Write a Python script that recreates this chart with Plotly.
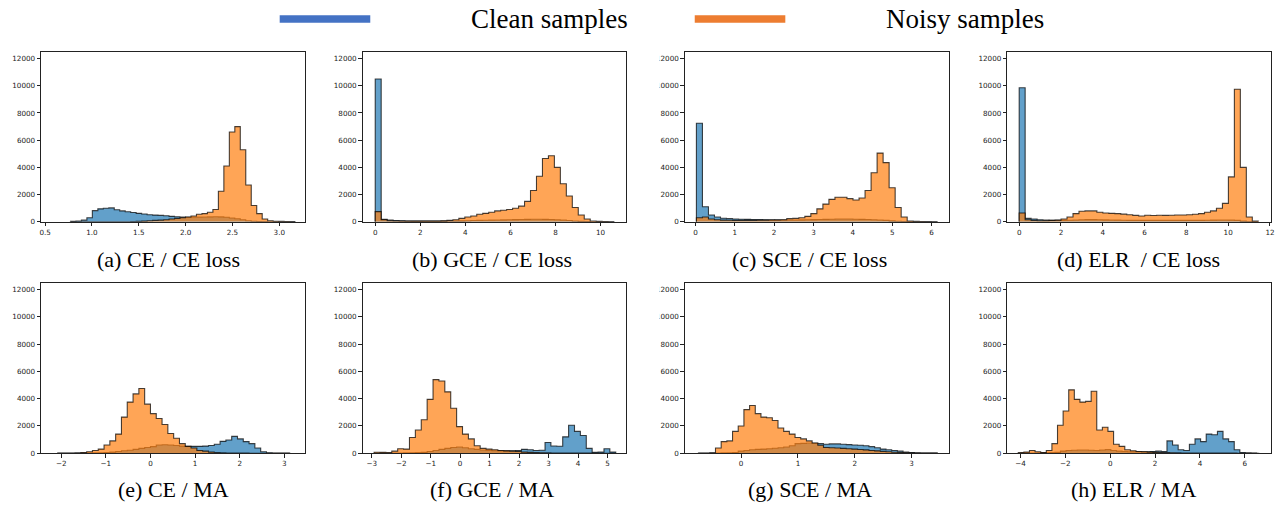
import plotly.graph_objects as go

W, H = 1282, 506

CAPTIONS = ["(a) CE / CE loss", "(b) GCE / CE loss", "(c) SCE / CE loss", "(d) ELR\u00a0 / CE loss",
            "(e) CE / MA", "(f) GCE / MA", "(g) SCE / MA", "(h) ELR / MA"]

# ---- histogram data: (bin start, bin width, counts) per series ----
A_CLEAN = (0.77, 0.0585, [30, 60, 120, 300, 820, 950, 1000, 1020, 880, 800, 740, 680, 620, 570, 520, 490, 470, 440,
                          400, 370, 340, 330, 330, 340, 350, 360, 370, 360, 330, 280, 220, 150, 80, 40, 20, 10, 5, 2,
                          0, 0, 0])
A_NOISY = (0.77, 0.0585, [0, 0, 0, 0, 0, 0, 0, 0, 0, 0, 5, 10, 30, 50, 80, 100, 120, 150, 200, 250, 300, 350, 420, 550,
                          600, 700, 900, 2250, 4100, 6600, 7000, 5300, 2700, 1200, 600, 200, 80, 40, 30, 20, 10])

B_CLEAN = (0.0, 0.265, [10500, 180, 120, 90, 70, 60, 50, 50, 45, 45, 45, 50, 55, 60, 70, 80, 90, 100, 110, 120, 130,
                        140, 150, 160, 170, 180, 190, 190, 180, 170, 150, 120, 90, 60, 30, 15, 5, 2, 0, 0])
B_NOISY = (0.0, 0.265, [750, 150, 80, 60, 55, 50, 50, 50, 50, 50, 50, 70, 100, 150, 250, 350, 420, 550, 620, 700, 800,
                        850, 900, 1000, 1150, 1500, 2300, 3350, 4650, 4850, 4000, 2800, 1900, 1050, 500, 200, 60, 30,
                        15, 5])

C_CLEAN = (0.025, 0.153, [7250, 1100, 500, 350, 260, 230, 200, 190, 180, 170, 160, 150, 140, 130, 130, 130, 130, 140,
                          150, 160, 170, 180, 190, 200, 200, 200, 190, 180, 170, 150, 130, 100, 70, 40, 20, 10, 5, 2,
                          0, 0])
C_NOISY = (0.025, 0.153, [300, 350, 200, 150, 120, 110, 100, 100, 100, 100, 110, 120, 130, 140, 150, 230, 250, 300, 400,
                          600, 950, 1300, 1650, 1800, 1800, 1700, 1600, 1750, 2300, 3600, 5050, 4350, 2500, 1050, 350,
                          60, 30, 20, 10, 5])

D_CLEAN = (0.0, 0.286, [9850, 250, 200, 150, 120, 100, 100, 100, 110, 130, 150, 160, 160, 150, 140, 130, 120, 110, 100,
                        100, 100, 100, 100, 100, 100, 100, 100, 100, 100, 100, 100, 110, 120, 130, 130, 120, 100, 50,
                        10, 0])
D_NOISY = (0.0, 0.286, [650, 150, 100, 80, 80, 100, 120, 200, 350, 600, 780, 800, 800, 700, 650, 620, 600, 560, 520,
                        470, 420, 480, 460, 480, 470, 480, 500, 500, 520, 550, 600, 700, 800, 1000, 1350, 3300, 9750,
                        4000, 350, 50])

E_CLEAN = (-2.08, 0.13, [0, 0, 0, 0, 5, 10, 20, 30, 50, 80, 120, 180, 220, 280, 350, 420, 480, 600, 620, 600, 560, 520,
                         500, 500, 500, 520, 560, 650, 870, 970, 1230, 1050, 850, 700, 380, 100, 30, 10, 5, 2])
E_NOISY = (-2.08, 0.13, [5, 5, 10, 20, 50, 100, 200, 300, 600, 900, 1400, 2650, 3750, 4350, 4750, 3600, 2900, 2550,
                         2100, 1450, 1100, 700, 500, 380, 200, 150, 80, 40, 20, 10, 5, 3, 2, 0, 0, 0, 0, 0, 0, 0])

F_CLEAN = (-2.92, 0.2, [0, 0, 0, 5, 10, 20, 30, 40, 60, 120, 200, 280, 350, 420, 450, 400, 330, 280, 230, 200, 180,
                        170, 170, 180, 200, 280, 250, 200, 220, 780, 530, 510, 1200, 2050, 1600, 1300, 350, 60, 80,
                        320, 80])
F_NOISY = (-2.92, 0.2, [70, 60, 50, 150, 330, 300, 1150, 1700, 2450, 3950, 5400, 5300, 4500, 3300, 1950, 1400, 1050,
                        550, 350, 300, 250, 200, 170, 150, 120, 80, 60, 40, 30, 20, 15, 10, 10, 5, 5, 3, 2, 0, 0, 0, 0])

G_CLEAN = (-0.75, 0.1, [0, 0, 5, 10, 20, 30, 50, 150, 200, 250, 280, 300, 330, 360, 400, 450, 550, 700, 720, 750, 730,
                        700, 650, 680, 680, 650, 630, 600, 580, 550, 480, 400, 300, 250, 200, 150, 80, 40, 20, 10, 5,
                        2])
G_NOISY = (-0.75, 0.1, [5, 10, 20, 380, 850, 900, 1600, 2000, 3200, 3500, 2900, 2650, 2600, 2400, 1850, 1600, 1400,
                        1150, 1050, 900, 750, 580, 420, 400, 380, 350, 320, 300, 270, 240, 200, 170, 130, 100, 70, 50,
                        30, 20, 10, 8, 5, 3])

H_CLEAN = (-3.97, 0.25, [10, 10, 15, 20, 30, 40, 60, 150, 200, 220, 230, 230, 220, 200, 230, 260, 200, 150, 120, 100,
                         100, 100, 100, 120, 150, 120, 900, 600, 250, 200, 650, 1050, 850, 1400, 1350, 1600, 1050, 850,
                         250, 50, 20, 5])
H_NOISY = (-4.1, 0.25, [50, 80, 200, 100, 50, 200, 700, 2050, 3100, 4650, 3950, 3750, 3800, 4550, 1700, 1900, 1600,
                        650, 500, 250, 180, 120, 100, 80, 60, 50, 40, 30, 20, 15, 10, 10, 5, 5, 3, 2, 2, 1, 1, 0, 0, 0,
                        0])

PANEL_DATA = [(A_CLEAN, A_NOISY), (B_CLEAN, B_NOISY), (C_CLEAN, C_NOISY), (D_CLEAN, D_NOISY),
              (E_CLEAN, E_NOISY), (F_CLEAN, F_NOISY), (G_CLEAN, G_NOISY), (H_CLEAN, H_NOISY)]

X_RANGES = [[0.457, 3.273], [-0.56, 11.13], [-0.27, 6.43], [-0.57, 12.05],
            [-2.45, 3.46], [-3.31, 5.63], [-0.99, 3.65], [-4.59, 7.17]]
X_DTICK = [0.5, 2, 1, 2, 1, 1, 1, 2]
Y_TICKS = [0, 2000, 4000, 6000, 8000, 10000, 12000]
Y_MAX = 12500

# ---- layout geometry (pixels) ----
COL_X = [(39.3, 304.3), (362.3, 627.0), (686.0, 951.0), (1010.0, 1275.0)]
ROW_Y = [(52.3, 224.0), (285.7, 457.7)]
CAP_X = [167, 492, 811, 1142, 172, 492, 812, 1137]
CAP_Y = [262, 494]

CLEAN_FILL = "rgba(31,119,180,0.7)"
NOISY_FILL = "rgba(255,127,14,0.7)"
EDGE = "rgba(0,0,0,0.72)"


def step_xy(series):
    start, width, counts = series
    n = len(counts)
    edges = [start + width * k for k in range(n + 1)]
    xs = [edges[0]] + edges[:n] + [edges[n]]
    ys = [0] + list(counts) + [0]
    return xs, ys


def px_x(p):
    return p / W


def px_y(p):
    return 1 - p / H


fig = go.Figure()
axis_common = dict(showline=True, mirror=True, linecolor="#222", linewidth=1, ticks="outside", ticklen=3.5,
                   tickwidth=1, tickcolor="#222", showgrid=False, zeroline=False,
                   tickfont=dict(family="DejaVu Sans", size=7.2, color="#222"))

for i, (clean, noisy) in enumerate(PANEL_DATA):
    n = i + 1
    xa = "x" if n == 1 else f"x{n}"
    ya = "y" if n == 1 else f"y{n}"
    for series, fill in ((clean, CLEAN_FILL), (noisy, NOISY_FILL)):
        xs, ys = step_xy(series)
        fig.add_trace(go.Scatter(x=xs, y=ys, mode="lines", line=dict(shape="hv", color=EDGE, width=1.1),
                                 fill="tozeroy", fillcolor=fill, xaxis=xa, yaxis=ya, showlegend=False,
                                 hoverinfo="skip"))
    row, col = divmod(i, 4)
    x0, x1 = COL_X[col]
    y0, y1 = ROW_Y[row]
    xkey = "xaxis" if n == 1 else f"xaxis{n}"
    ykey = "yaxis" if n == 1 else f"yaxis{n}"
    xdict = dict(axis_common, domain=[px_x(x0), px_x(x1)], anchor=ya, range=X_RANGES[i],
                 dtick=X_DTICK[i], tick0=0)
    if i == 0:
        xdict["tickformat"] = ".1f"
    fig.layout[xkey] = xdict
    fig.layout[ykey] = dict(axis_common, domain=[px_y(y1), px_y(y0)], anchor=xa, range=[0, Y_MAX],
                            tickvals=Y_TICKS, tickformat="d")
    fig.add_annotation(x=px_x(CAP_X[i]), y=px_y(CAP_Y[row]), xref="paper", yref="paper", text=CAPTIONS[i],
                       showarrow=False, xanchor="center", yanchor="middle",
                       font=dict(family="Liberation Serif", size=22, color="#000"))

# clipped tick labels of the third column (image crop in the original)
for (ya0, ya1) in ((45, 232), (278, 466)):
    fig.add_shape(type="rect", xref="paper", yref="paper", x0=px_x(636), x1=px_x(660.5),
                  y0=px_y(ya1), y1=px_y(ya0), fillcolor="white", line=dict(width=0), layer="above")

# legend
LEGEND = [("Clean samples", "#4472C4", 279, 370, 469), ("Noisy samples", "#ED7D31", 696, 787, 886)]
for label, color, lx0, lx1, tx in LEGEND:
    fig.add_shape(type="rect", xref="paper", yref="paper", x0=px_x(lx0), x1=px_x(lx1), y0=px_y(23), y1=px_y(15.5),
                  fillcolor=color, line=dict(width=0), layer="above")
    fig.add_annotation(x=px_x(tx), y=px_y(19), xref="paper", yref="paper", text=label, showarrow=False,
                       xanchor="left", yanchor="middle", font=dict(family="Liberation Serif", size=27, color="#000"))

fig.update_layout(width=W, height=H, autosize=False, margin=dict(l=0, r=0, t=0, b=0),
                  plot_bgcolor="white", paper_bgcolor="white", showlegend=False)

fig.write_html("out.html", config={"displayModeBar": False},
               post_script="document.body.style.margin='0';document.body.style.overflow='hidden';")
